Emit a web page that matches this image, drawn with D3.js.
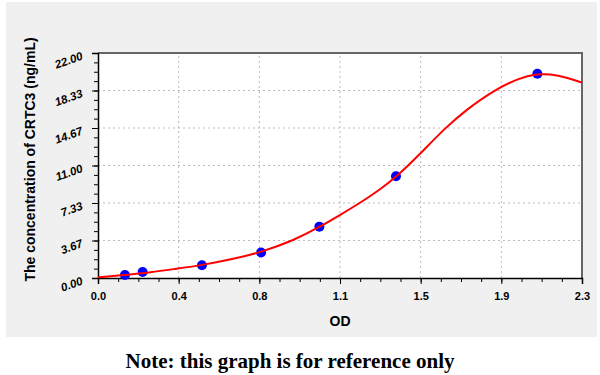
<!DOCTYPE html>
<html>
<head>
<meta charset="utf-8">
<script src="https://cdn.jsdelivr.net/npm/d3@7"></script>
<style>
  body { margin: 0; background: #fff; }
  svg { display: block; }
</style>
</head>
<body>
<svg id="chart"></svg>
<script>
// Standard points (OD, concentration)
const pointOD = [0.128, 0.212, 0.494, 0.775, 1.052, 1.416, 2.088];
const pointConc = [0.29, 0.59, 1.24, 2.49, 5.02, 9.95, 19.97];

// Fitted curve
const curveOD = [0, 0.128, 0.25, 0.37, 0.494, 0.63, 0.773, 0.93, 1.05, 1.15, 1.245, 1.34, 1.416, 1.52, 1.649, 1.75, 1.879, 2.006, 2.085, 2.148, 2.228, 2.3];
const curveConc = [0.07, 0.3, 0.55, 0.9, 1.25, 1.8, 2.5, 3.67, 4.95, 6.16, 7.33, 8.65, 9.85, 11.9, 14.67, 16.45, 18.33, 19.6, 19.95, 19.95, 19.6, 19.1];

// Tick labels
const xTicks = [0, 2.3 / 6, 2 * 2.3 / 6, 3 * 2.3 / 6, 4 * 2.3 / 6, 5 * 2.3 / 6, 2.3];
const xTickLabels = ["0.0", "0.4", "0.8", "1.1", "1.5", "1.9", "2.3"];
const yTicks = [0, 22 / 6, 2 * 22 / 6, 3 * 22 / 6, 4 * 22 / 6, 5 * 22 / 6, 22];
const yTickLabels = ["0.00", "3.67", "7.33", "11.00", "14.67", "18.33", "22.00"];

const width = 600, height = 375;
const marginLeft = 98, marginRight = 18, marginTop = 53, marginBottom = 97;

const svg = d3.select("#chart")
    .attr("width", width)
    .attr("height", height)
    .attr("viewBox", [0, 0, width, height]);

// gray panel
svg.append("rect")
    .attr("x", 6).attr("y", 2)
    .attr("width", 591).attr("height", 335)
    .attr("fill", "#f0f0f0");

const x = d3.scaleLinear().domain([0, 2.3]).range([marginLeft, width - marginRight]);
const y = d3.scaleLinear().domain([0, 22]).range([height - marginBottom, marginTop]);

// plot area
svg.append("rect")
    .attr("x", x(0)).attr("y", y(22))
    .attr("width", x(2.3) - x(0)).attr("height", y(0) - y(22))
    .attr("fill", "#fff");

// grid
svg.append("g")
    .selectAll("line")
    .data(xTicks.slice(1, -1))
    .join("line")
    .attr("x1", d => x(d)).attr("x2", d => x(d))
    .attr("y1", y(0)).attr("y2", y(22))
    .attr("stroke", "#bbb").attr("stroke-dasharray", "2,3");

svg.append("g")
    .selectAll("line")
    .data(yTicks.slice(1, -1))
    .join("line")
    .attr("x1", x(0)).attr("x2", x(2.3))
    .attr("y1", d => y(d)).attr("y2", d => y(d))
    .attr("stroke", "#bbb").attr("stroke-dasharray", "2,3");

// top and right frame
svg.append("path")
    .attr("d", `M${x(0)},${y(22)}H${x(2.3)}V${y(0)}`)
    .attr("fill", "none")
    .attr("stroke", "#666")
    .attr("stroke-width", 2);

// minor ticks
const xMinor = d3.range(0, 25).map(i => i * 2.3 / 24);
const yMinor = d3.range(0, 25).map(i => i * 22 / 24);

svg.append("g")
    .attr("transform", `translate(0,${y(0)})`)
    .call(d3.axisBottom(x).tickValues(xMinor).tickSize(4).tickFormat(""))
    .call(g => g.select(".domain").remove());

svg.append("g")
    .attr("transform", `translate(${x(0)},0)`)
    .call(d3.axisLeft(y).tickValues(yMinor).tickSize(4).tickFormat(""))
    .call(g => g.select(".domain").remove());

// x axis
svg.append("g")
    .attr("transform", `translate(0,${y(0)})`)
    .call(d3.axisBottom(x).tickValues(xTicks).tickSize(6).tickPadding(8)
        .tickFormat((d, i) => xTickLabels[i]))
    .call(g => g.select(".domain").attr("stroke-width", 1.5))
    .call(g => g.selectAll("text")
        .attr("font-family", "Liberation Sans, Arial, sans-serif")
        .attr("font-size", 11)
        .attr("font-weight", "bold")
        .attr("fill", "#000"));

// y axis
svg.append("g")
    .attr("transform", `translate(${x(0)},0)`)
    .call(d3.axisLeft(y).tickValues(yTicks).tickSize(6).tickPadding(10)
        .tickFormat((d, i) => yTickLabels[i]))
    .call(g => g.select(".domain").attr("stroke-width", 1.5))
    .call(g => g.selectAll("text")
        .attr("font-family", "Liberation Sans, Arial, sans-serif")
        .attr("font-size", 11.5)
        .attr("font-weight", "bold")
        .attr("font-style", "italic")
        .attr("fill", "#000")
        .attr("transform", "rotate(-20,-10,0)"));

// points
svg.append("g")
    .selectAll("circle")
    .data(pointOD.map((d, i) => [d, pointConc[i]]))
    .join("circle")
    .attr("cx", d => x(d[0]))
    .attr("cy", d => y(d[1]))
    .attr("r", 5)
    .attr("fill", "#0000ff");

// fitted curve
const line = d3.line()
    .x(d => x(d[0]))
    .y(d => y(d[1]))
    .curve(d3.curveBasis);

svg.append("path")
    .datum(curveOD.map((d, i) => [d, curveConc[i]]))
    .attr("d", line)
    .attr("fill", "none")
    .attr("stroke", "#ff0000")
    .attr("stroke-width", 2);

// axis titles
svg.append("text")
    .attr("x", x(1.15)).attr("y", 326)
    .attr("text-anchor", "middle")
    .attr("font-family", "Liberation Sans, Arial, sans-serif")
    .attr("font-size", 14)
    .attr("font-weight", "bold")
    .text("OD");

svg.append("text")
    .attr("transform", `translate(35,${(y(0) + y(22)) / 2 - 6}) rotate(-90)`)
    .attr("text-anchor", "middle")
    .attr("font-family", "Liberation Sans, Arial, sans-serif")
    .attr("font-size", 14)
    .attr("font-weight", "bold")
    .text("The concentration of CRTC3 (ng/mL)");

// note
svg.append("text")
    .attr("x", 290).attr("y", 368)
    .attr("text-anchor", "middle")
    .attr("font-family", "Liberation Serif, serif")
    .attr("font-size", 21)
    .attr("font-weight", "bold")
    .text("Note: this graph is for reference only");
</script>
</body>
</html>
